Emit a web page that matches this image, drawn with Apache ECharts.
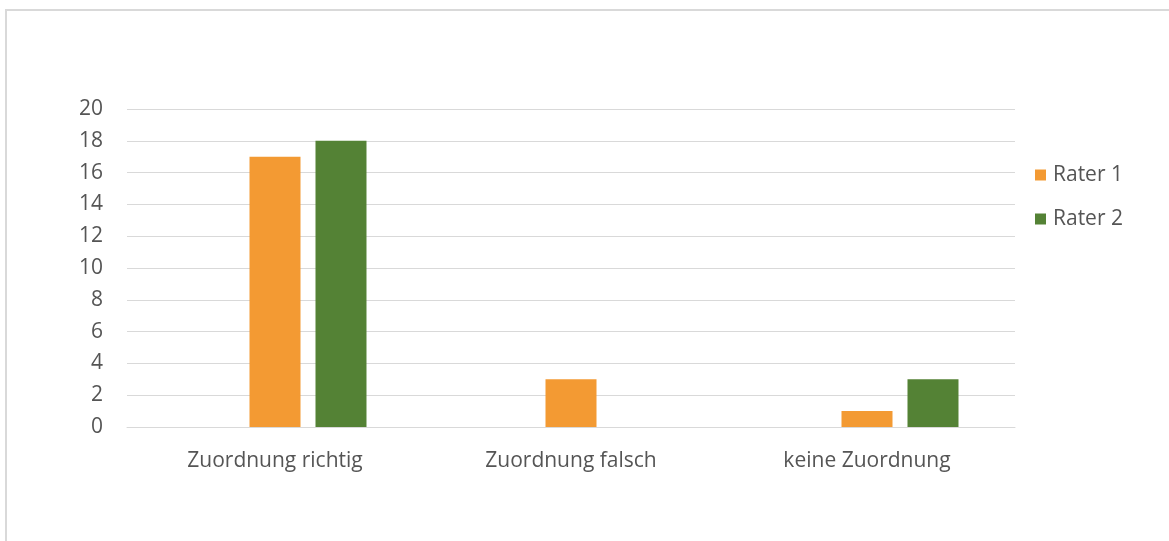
<!DOCTYPE html>
<html>
<head>
<meta charset="utf-8">
<script src="https://cdn.jsdelivr.net/npm/echarts@6/dist/echarts.min.js"></script>
<style>
  html, body { margin: 0; padding: 0; background: #fff; }
  #frame {
    position: absolute; left: 5px; top: 9px; width: 1200px; height: 600px;
    border-top: 2px solid #d9d9d9; border-left: 2px solid #d9d9d9;
  }
  #chart { position: absolute; left: 0; top: 0; width: 1169px; height: 541px; }
</style>
</head>
<body>
<div id="frame"></div>
<div id="chart"></div>
<script>
const categories = ['Zuordnung richtig', 'Zuordnung falsch', 'keine Zuordnung'];
const rater1 = [17, 3, 1];
const rater2 = [18, 0, 3];
// empty leading slot in each category group
const spacer = [null, null, null];
const yTicks = { min: 0, max: 20, interval: 2 };

const textColor = '#555555';
const fontFamily = '"Open Sans", Lato, sans-serif';

const chart = echarts.init(document.getElementById('chart'), null, { renderer: 'canvas' });
chart.setOption({
  animation: false,
  backgroundColor: 'transparent',
  textStyle: { fontFamily: fontFamily },
  grid: { left: 127, right: 154, top: 109, bottom: 114, containLabel: false },
  legend: {
    orient: 'vertical',
    left: 1030,
    top: 159,
    data: ['Rater 1', 'Rater 2'],
    itemWidth: 11,
    itemHeight: 11,
    itemGap: 22,
    icon: 'rect',
    textStyle: { color: textColor, fontSize: 21, lineHeight: 22, fontFamily: fontFamily, padding: [0, 0, 0, 2] }
  },
  xAxis: {
    type: 'category',
    data: categories,
    axisLine: { show: true, lineStyle: { color: '#d9d9d9', width: 1 } },
    axisTick: { show: false },
    axisLabel: { color: textColor, fontSize: 21, margin: 24, fontFamily: fontFamily }
  },
  yAxis: {
    type: 'value',
    min: yTicks.min,
    max: yTicks.max,
    interval: yTicks.interval,
    axisLine: { show: false },
    axisTick: { show: false },
    axisLabel: { color: textColor, fontSize: 21, margin: 24, fontFamily: fontFamily },
    splitLine: { lineStyle: { color: '#d9d9d9', width: 1 } }
  },
  series: [
    {
      name: 'spacer', type: 'bar', data: spacer,
      barWidth: 51, barGap: '29.4%'
    },
    {
      name: 'Rater 1', type: 'bar', data: rater1,
      barWidth: 51, barGap: '29.4%',
      itemStyle: { color: '#F39A33' }
    },
    {
      name: 'Rater 2', type: 'bar', data: rater2,
      barWidth: 51, barGap: '29.4%',
      itemStyle: { color: '#548235' }
    }
  ]
});
</script>
</body>
</html>
